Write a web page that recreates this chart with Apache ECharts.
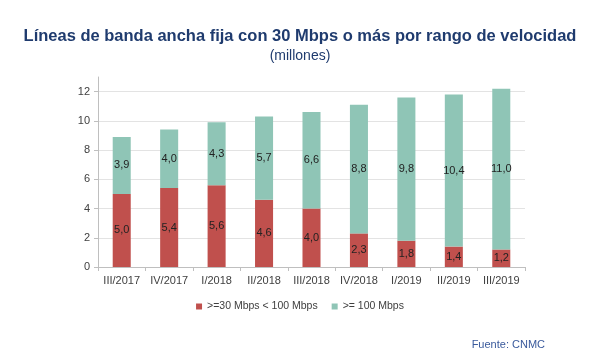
<!DOCTYPE html>
<html>
<head>
<meta charset="utf-8">
<script src="https://cdn.jsdelivr.net/npm/echarts@6/dist/echarts.min.js"></script>
<style>
  html, body { margin: 0; padding: 0; background: #fff; }
  #chart { width: 600px; height: 353px; }
</style>
</head>
<body>
<div id="chart"></div>
<script>
// datos (millones de líneas)
var categories = ["III/2017", "IV/2017", "I/2018", "II/2018", "III/2018", "IV/2018", "I/2019", "II/2019", "III/2019"];
var lowSpeed = [5.0, 5.4, 5.6, 4.6, 4.0, 2.3, 1.8, 1.4, 1.2];
var highSpeed = [3.9, 4.0, 4.3, 5.7, 6.6, 8.8, 9.8, 10.4, 11.0];
var seriesNames = [">=30 Mbps < 100 Mbps", ">= 100 Mbps"];

var myChart = echarts.init(document.getElementById("chart"));

function fmt(p) {
  return p.value.toFixed(1).replace(".", ",");
}

var labelStyle = {
  show: true,
  position: "inside",
  color: "#222",
  fontSize: 11,
  fontFamily: "Liberation Sans, Arial",
  formatter: fmt
};

var option = {
  color: ["#c0504d", "#8fc5b6"],
  textStyle: { fontFamily: "Liberation Sans, Arial" },
  title: [
    {
      text: "Líneas de banda ancha fija con 30 Mbps o más por rango de velocidad",
      left: "center",
      top: 23,
      textStyle: { color: "#1f3b6e", fontSize: 16.5, fontWeight: "bold" }
    },
    {
      text: "(millones)",
      left: "center",
      top: 44,
      textStyle: { color: "#1f3b6e", fontSize: 14, fontWeight: "normal" }
    },
    {
      text: "Fuente: CNMC",
      right: 50,
      top: 334,
      textStyle: { color: "#3a5a9c", fontSize: 11, fontWeight: "normal" }
    }
  ],
  legend: {
    data: seriesNames,
    top: 296,
    left: "center",
    itemWidth: 6,
    itemHeight: 6,
    itemGap: 14,
    icon: "rect",
    textStyle: { color: "#404040", fontSize: 10.5 }
  },
  grid: {
    left: 98,
    right: 75,
    top: 77,
    bottom: 86
  },
  xAxis: {
    type: "category",
    data: categories,
    axisLine: { lineStyle: { color: "#bfbfbf" } },
    axisTick: { show: true, length: 4, lineStyle: { color: "#bfbfbf" } },
    axisLabel: { color: "#404040", fontSize: 11, margin: 8, interval: 0 }
  },
  yAxis: {
    type: "value",
    min: 0,
    max: 13,
    interval: 2,
    axisLine: { show: true, lineStyle: { color: "#bfbfbf" } },
    axisTick: { show: true, length: 4, lineStyle: { color: "#bfbfbf" } },
    axisLabel: { color: "#404040", fontSize: 11, showMaxLabel: false, margin: 8 },
    splitLine: { show: true, showMaxLine: false, lineStyle: { color: "#e3e3e3" } }
  },
  series: [
    {
      name: seriesNames[0],
      type: "bar",
      stack: "total",
      barWidth: "38%",
      data: lowSpeed,
      label: labelStyle
    },
    {
      name: seriesNames[1],
      type: "bar",
      stack: "total",
      barWidth: "38%",
      data: highSpeed,
      label: labelStyle
    }
  ]
};

myChart.setOption(option, true);
</script>
</body>
</html>
